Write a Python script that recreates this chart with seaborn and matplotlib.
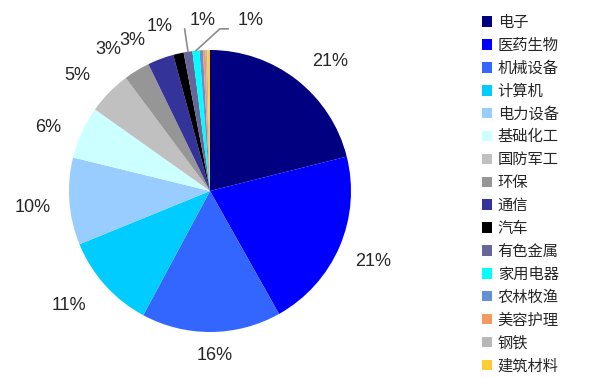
import matplotlib
matplotlib.use('Agg')
import matplotlib.pyplot as plt
import numpy as np
import seaborn as sns

# 行业占比数据
sectors = ['电子', '医药生物', '机械设备', '计算机', '电力设备', '基础化工', '国防军工', '环保',
           '通信', '汽车', '有色金属', '家用电器', '农林牧渔', '美容护理', '钢铁', '建筑材料']
values = [21.1, 20.8, 16.0, 11.0, 10.0, 6.0, 5.0, 3.0, 3.0, 1.2, 1.0, 0.8, 0.4, 0.3, 0.2, 0.3]
colors = ['#000080', '#0000FF', '#3366FF', '#00CCFF', '#99CCFF', '#CCFFFF', '#C0C0C0', '#969696',
          '#333399', '#000000', '#666699', '#00FFFF', '#6690D6', '#F59A5E', '#B7B7B7', '#FFCC33']
n_labeled = 12  # 只标注前12个

sns.set_style('white')
plt.rcParams['font.family'] = ['Noto Sans CJK SC', 'DejaVu Sans']

W, H = 591, 378
cx, cy, R = 210, 191, 141  # 饼图中心及半径(像素)
fig = plt.figure(figsize=(W / 100, H / 100), dpi=100)
ax = fig.add_axes([(cx - 1.5 * R) / W, (H - cy - 1.5 * R) / H, 3 * R / W, 3 * R / H])

wedges, _ = ax.pie(values, colors=colors, startangle=90, counterclock=False,
                   wedgeprops=dict(linewidth=0))
ax.set_xlim(-1.5, 1.5)
ax.set_ylim(-1.5, 1.5)
ax.axis('off')

total = sum(values)
# 标签位置调整 (数据坐标)
label_pos = {
    0: (0.85, 0.92),
    2: (0.03, -1.17),
    3: (-1.0, -0.81),
    4: (-1.26, -0.12),
    5: (-1.15, 0.45),
    6: (-0.94, 0.82),
    7: (-0.72, 1.00),
    8: (-0.55, 1.07),
    9: (-0.36, 1.17),
    10: (-0.05, 1.21),
    11: (0.29, 1.21),
}
# 引导线
leaders = {
    10: [(-0.18, 1.15)],
    11: [(0.13, 1.15), (0.07, 1.15)],
}
lab_font = ['Liberation Sans', 'DejaVu Sans']
for i, w in enumerate(wedges[:n_labeled]):
    mid = np.deg2rad((w.theta1 + w.theta2) / 2)
    pct = '{:.0f}%'.format(values[i] / total * 100)
    if i in label_pos:
        x, y = label_pos[i]
    else:
        x, y = 1.26 * np.cos(mid), 1.26 * np.sin(mid)
    ax.text(x, y, pct, ha='center', va='center', fontsize=13, color='#262626', family=lab_font)
    if i in leaders:
        pts = leaders[i] + [(np.cos(mid), np.sin(mid))]
        xs = [p[0] for p in pts]
        ys = [p[1] for p in pts]
        ax.plot(xs, ys, color='#8C8C8C', lw=1.2, clip_on=False)

fig.legend(wedges, sectors, loc='upper left', bbox_to_anchor=(482 / W, 1 - 14 / H),
           frameon=False, fontsize=11, handlelength=0.68, handleheight=0.68,
           handletextpad=0.35, labelspacing=0.385, borderaxespad=0, borderpad=0)

fig.savefig('out.png', dpi=100, facecolor='white')
